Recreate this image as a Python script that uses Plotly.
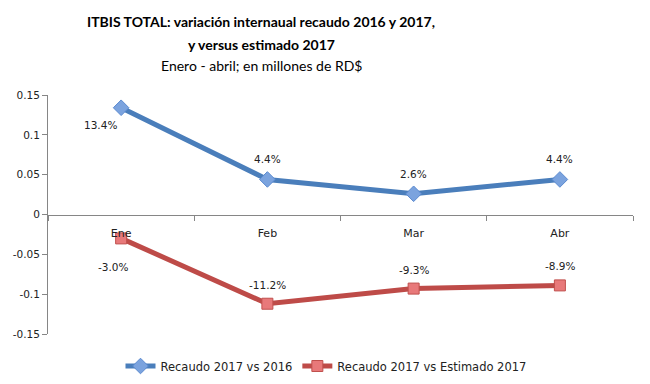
import plotly.graph_objects as go

categories = ["Ene", "Feb", "Mar", "Abr"]
recaudo_vs_2016 = [0.134, 0.044, 0.026, 0.044]
recaudo_vs_estimado = [-0.030, -0.112, -0.093, -0.089]
labels_2016 = ["13.4%", "4.4%", "2.6%", "4.4%"]
labels_estimado = ["-3.0%", "-11.2%", "-9.3%", "-8.9%"]
y_ticks = [-0.15, -0.1, -0.05, 0, 0.05, 0.1, 0.15]
y_tick_text = ["-0.15", "-0.1", "-0.05", "0", "0.05", "0.1", "0.15"]
title_lines = [
    "<b>ITBIS TOTAL: variación internaual recaudo 2016 y 2017,</b>",
    "<b>y versus estimado 2017</b>",
    "Enero - abril; en millones de RD$",
]

FONT = "DejaVu Sans"
BLUE = "#4A7EBB"
RED = "#BE4B48"

# page body adds an 8px offset; size the figure to compensate
W, H = 642, 376
ML, MR, MT, MB = 40, 17, 87, 50
PH = H - MT - MB
PW = W - ML - MR

fig = go.Figure()
fig.add_trace(go.Scatter(
    x=categories, y=recaudo_vs_2016, mode="lines+markers",
    name="Recaudo 2017 vs 2016",
    line=dict(color=BLUE, width=5),
    marker=dict(symbol="diamond", size=12, color="#7BA3DE", line=dict(color="#5B8AD0", width=1)),
))
fig.add_trace(go.Scatter(
    x=categories, y=recaudo_vs_estimado, mode="lines+markers",
    name="Recaudo 2017 vs Estimado 2017",
    line=dict(color=RED, width=5),
    marker=dict(symbol="square", size=11, color="#E8797A", line=dict(color="#C0504D", width=1)),
))

lab_font = dict(family=FONT, size=10.5, color="#222")
annotations = []
for i, (c, v, t) in enumerate(zip(categories, recaudo_vs_2016, labels_2016)):
    if i == 0:
        annotations.append(dict(x=c, y=v, text=t, showarrow=False, xshift=-21, yshift=-17, font=lab_font))
    else:
        annotations.append(dict(x=c, y=v, text=t, showarrow=False, xshift=0, yshift=20, font=lab_font))
for i, (c, v, t) in enumerate(zip(categories, recaudo_vs_estimado, labels_estimado)):
    if i == 0:
        annotations.append(dict(x=c, y=v, text=t, showarrow=False, xshift=-8, yshift=-29, font=lab_font))
    else:
        annotations.append(dict(x=c, y=v, text=t, showarrow=False, xshift=0, yshift=19, font=lab_font))

# title lines (page y centres 22, 44, 66)
for txt, py in zip(title_lines, [22, 44, 66]):
    fy = py - 8
    annotations.append(dict(
        xref="paper", yref="paper", x=(253 - ML) / PW, y=1 + (MT - fy) / PH,
        xanchor="center", yanchor="middle", text=txt, showarrow=False,
        font=dict(family="Lato", size=14, color="#000"),
    ))

fig.update_layout(
    width=W, height=H,
    paper_bgcolor="white", plot_bgcolor="white",
    margin=dict(l=ML, r=MR, t=MT, b=MB, autoexpand=False),
    xaxis=dict(
        type="category", anchor="free", position=0.5, automargin=False,
        showline=True, linecolor="#868686", linewidth=1,
        ticks="outside", ticklen=5, tickcolor="#868686", tickson="boundaries",
        showgrid=False, zeroline=False, ticklabelstandoff=8,
        tickfont=dict(family=FONT, size=11, color="#222"),
        range=[-0.5, 3.5],
    ),
    yaxis=dict(
        range=[-0.15, 0.15], tickvals=y_ticks, ticktext=y_tick_text, automargin=False,
        showline=True, linecolor="#868686", linewidth=1,
        ticks="outside", ticklen=5, tickcolor="#868686",
        showgrid=False, zeroline=False,
        tickfont=dict(family=FONT, size=10.5, color="#222"),
    ),
    legend=dict(
        orientation="h", x=(318 - ML) / PW, xanchor="center",
        yref="container", y=1 - (366 - 8) / H, yanchor="middle",
        font=dict(family=FONT, size=11.5, color="#222"),
    ),
    annotations=annotations,
)

fig.write_html("out.html")
